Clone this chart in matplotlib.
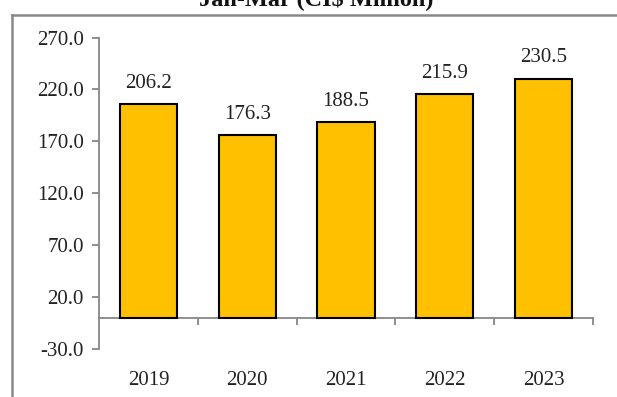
import matplotlib.pyplot as plt
from matplotlib.lines import Line2D
import numpy as np

# Datos
anios = ['2019', '2020', '2021', '2022', '2023']
valores = [206.2, 176.3, 188.5, 215.9, 230.5]
ticks_y = [-30.0, 20.0, 70.0, 120.0, 170.0, 220.0, 270.0]
titulo = 'Jan-Mar (CI$ Million)'

plt.rcParams['font.family'] = ['Liberation Serif', 'DejaVu Serif']
gris = '#868686'
tam = 15

fig = plt.figure(figsize=(6.17, 3.97), dpi=100)
ax = fig.add_axes([0.1605, 0.1209, 0.8005, 0.7846])

x = np.arange(len(anios))
ax.bar(x, valores, width=0.58, color='#FFC000', edgecolor='black',
       linewidth=1.5, zorder=3)

# Etiquetas de datos
for xi, v in zip(x, valores):
    ax.annotate(f'{v:.1f}', (xi, v), xytext=(0, 8), textcoords='offset points',
                ha='center', va='bottom', fontsize=tam, color='#222222')

ax.set_xlim(-0.5, len(anios) - 0.5)
ax.set_ylim(ticks_y[0], ticks_y[-1])
ax.set_yticks(ticks_y)
ax.set_yticklabels([f'{t:.1f}' for t in ticks_y])
ax.set_xticks(x)
ax.set_xticklabels(anios)
ax.set_xticks(np.arange(0.5, len(anios), 1), minor=True)

ax.spines['top'].set_visible(False)
ax.spines['right'].set_visible(False)
ax.spines['bottom'].set_position(('data', 0))
ax.spines['bottom'].set_color(gris)
ax.spines['left'].set_color(gris)
ax.spines['bottom'].set_linewidth(1.3)
ax.spines['left'].set_linewidth(1.3)

ax.tick_params(axis='y', length=5, width=1.3, color=gris, pad=6,
               labelsize=tam, labelcolor='#222222')
ax.tick_params(axis='x', which='major', length=0, pad=38.5,
               labelsize=tam, labelcolor='#222222')
ax.tick_params(axis='x', which='minor', length=5, width=1.3, color=gris)

# Titulo recortado y borde
fig.text(0.512, 1 - 5 / 397, titulo, ha='center', va='baseline',
         fontsize=17.5, fontweight='bold', color='#111111')
fig.add_artist(Line2D([11.5 / 617, 1], [1 - 14.5 / 397] * 2, transform=fig.transFigure,
                      color='#898989', lw=1.8))
fig.add_artist(Line2D([11.5 / 617] * 2, [0, 1 - 14.5 / 397], transform=fig.transFigure,
                      color='#898989', lw=1.8))

fig.savefig('out.png', dpi=100)
